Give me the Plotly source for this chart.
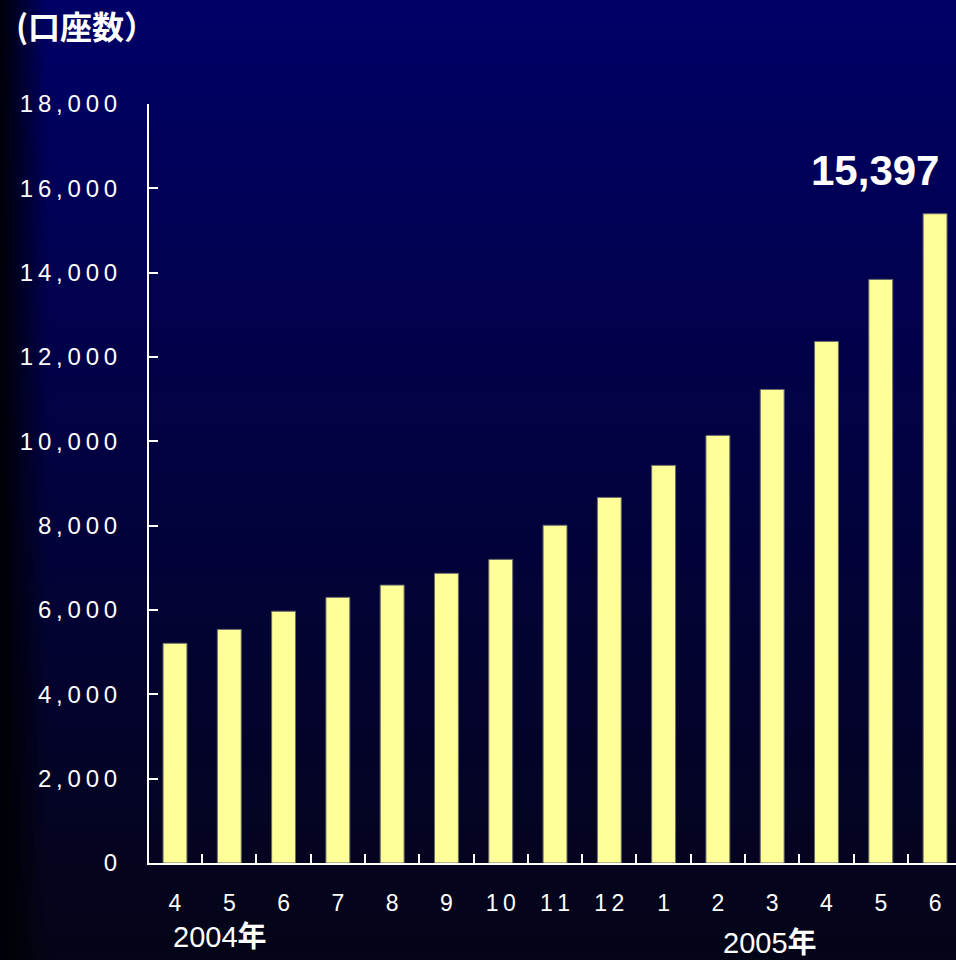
import base64, struct, zlib
import plotly.graph_objects as go

# ---- data ----
categories = ["2004-04", "2004-05", "2004-06", "2004-07", "2004-08", "2004-09", "2004-10",
              "2004-11", "2004-12", "2005-01", "2005-02", "2005-03", "2005-04", "2005-05", "2005-06"]
month_labels = ["4", "5", "6", "7", "8", "9", "10", "11", "12", "1", "2", "3", "4", "5", "6"]
accounts = [5210, 5540, 5970, 6300, 6590, 6870, 7200, 8010, 8670, 9430, 10140, 11230, 12370, 13840, 15397]
y_ticks = [0, 2000, 4000, 6000, 8000, 10000, 12000, 14000, 16000, 18000]
year_labels = ["2004<b>年</b>", "2005<b>年</b>"]
title_text = "<b>(口座数）</b>"
last_label = "<b>15,397</b>"

W, H = 956, 960
L, R, T, B = 149, 0, 104, 97
PW = W - L - R

TS = "\u2009"  # thin space for letter spacing

def spaced(s):
    return TS.join(list(s))

# ---- background gradient image (PNG built in memory) ----
def make_png(w, h):
    rows = []
    for j in range(h):
        t = j / (h - 1)
        r0 = 0 + 5 * t
        g0 = 0 + 5 * t
        b0 = 104 * (1 - t) + 24 * t
        row = bytearray([0])
        for i in range(w):
            x = i / (w - 1) * W
            f = min(1.0, 0.12 + 0.88 * (x / 45.0)) if x < 45 else 1.0
            row += bytes([int(r0 * f), int(g0 * f), int(max(8, b0 * f))])
        rows.append(bytes(row))
    raw = b"".join(rows)
    def chunk(tag, data):
        c = struct.pack(">I", len(data)) + tag + data
        return c + struct.pack(">I", zlib.crc32(tag + data) & 0xffffffff)
    png = b"\x89PNG\r\n\x1a\n" + chunk(b"IHDR", struct.pack(">IIBBBBB", w, h, 8, 2, 0, 0, 0))
    png += chunk(b"IDAT", zlib.compress(raw, 9)) + chunk(b"IEND", b"")
    return "data:image/png;base64," + base64.b64encode(png).decode()

bg = make_png(240, 240)

FONT = "Liberation Sans, Arial, Noto Sans CJK JP, sans-serif"

fig = go.Figure()
fig.add_trace(go.Bar(
    x=categories, y=accounts, width=0.44,
    marker=dict(color="#FFFF99", line=dict(color="#6a6a6a", width=1)),
    hoverinfo="skip",
))

step = 54.29
first_center = 175
rng_lo = -(first_center - L) / step
rng_hi = rng_lo + PW / step

fig.update_layout(
    width=W, height=H,
    margin=dict(l=L, r=R, t=T, b=B),
    paper_bgcolor="#000010", plot_bgcolor="rgba(0,0,0,0)",
    showlegend=False,
    font=dict(family=FONT, color="white"),
    images=[dict(source=bg, xref="paper", yref="paper", x=-L / PW, y=1 + T / (H - T - B),
                 sizex=W / PW, sizey=H / (H - T - B), sizing="stretch", layer="below",
                 xanchor="left", yanchor="top")],
    xaxis=dict(
        type="category", range=[rng_lo, rng_hi],
        tickvals=categories, ticktext=[spaced(m) for m in month_labels],
        tickson="boundaries", ticks="inside", ticklen=9, tickwidth=2, tickcolor="white",
        showline=True, linecolor="white", linewidth=2, showgrid=False, zeroline=False,
        tickfont=dict(size=23, color="white", family=FONT), ticklabelstandoff=18,
    ),
    yaxis=dict(
        range=[0, 18000], tickvals=y_ticks, ticktext=[spaced(f"{v:,}") for v in y_ticks],
        ticks="inside", ticklen=9, tickwidth=2, tickcolor="white",
        showline=True, linecolor="white", linewidth=2, showgrid=False, zeroline=False,
        tickfont=dict(size=24, color="white", family=FONT), ticklabelstandoff=25,
    ),
    annotations=[
        dict(text=title_text, xref="paper", yref="paper", x=(14 - L) / PW, y=1, xanchor="left",
             yanchor="middle", yshift=T - 25, showarrow=False,
             font=dict(size=32, color="white", family="Noto Sans CJK JP, sans-serif")),
        dict(text=year_labels[0], xref="x", yref="paper", x=(220 - first_center) / step, y=0,
             yanchor="middle", yshift=-(937 - 863), showarrow=False,
             font=dict(size=29, color="white", family=FONT)),
        dict(text=year_labels[1], xref="x", yref="paper", x=(770 - first_center) / step, y=0,
             yanchor="middle", yshift=-(943 - 863), showarrow=False,
             font=dict(size=29, color="white", family=FONT)),
        dict(text=last_label, xref="x", yref="y", x=len(categories) - 1, y=accounts[-1],
             xshift=875 - 935, yanchor="bottom", yshift=18, showarrow=False,
             font=dict(size=42, color="white", family=FONT)),
    ],
)

fig.write_html("out.html", config={"displayModeBar": False},
               post_script="document.body.style.margin='0';document.body.style.background='#000010';"
                           "document.documentElement.style.overflow='hidden';")
